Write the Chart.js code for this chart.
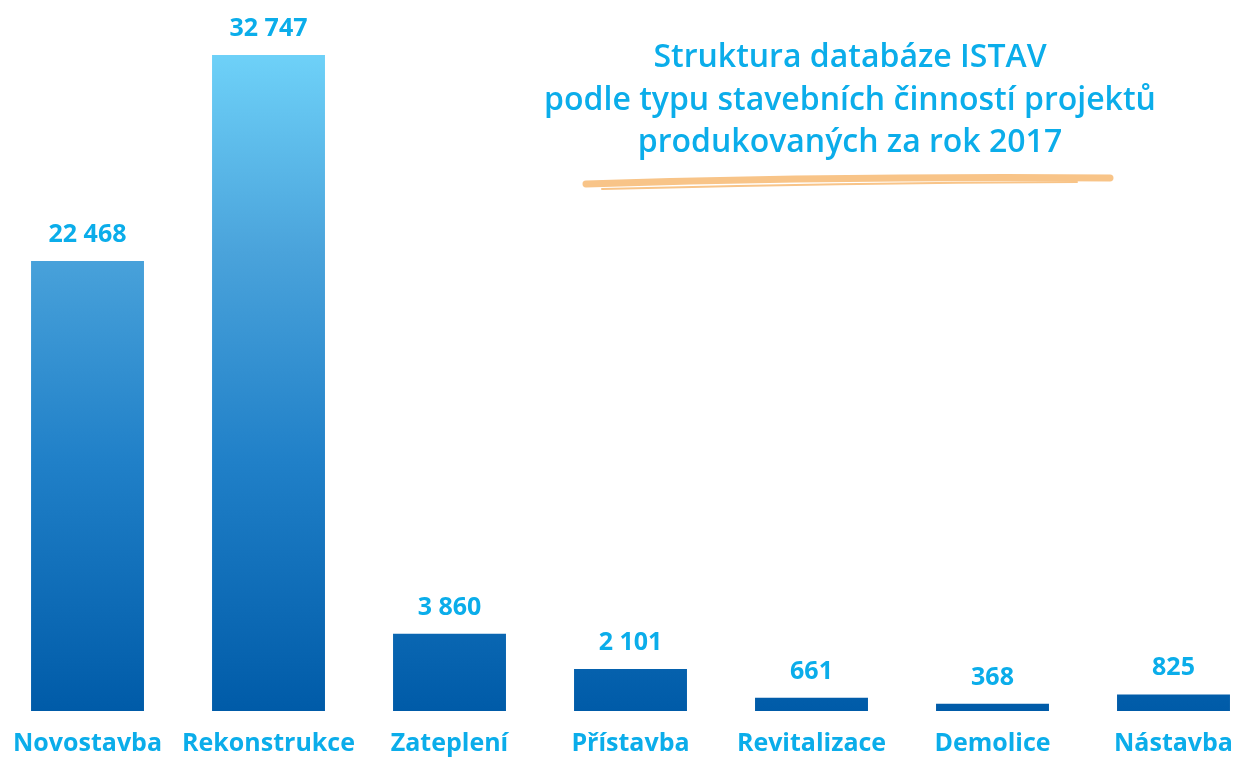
<!DOCTYPE html>
<html>
<head>
<meta charset="utf-8">
<script src="https://cdn.jsdelivr.net/npm/chart.js@4.4.1/dist/chart.umd.min.js"></script>
<style>
  html, body { margin: 0; padding: 0; background: #ffffff; overflow: hidden; }
  body { width: 1235px; height: 758px; position: relative; }
  #wrap { position: absolute; left: -5px; top: 0; width: 1269px; height: 758px; }
  #title {
    position: absolute; left: 500px; width: 700px; top: 34px; white-space: nowrap;
    text-align: center; color: #0badea;
    font-family: "Open Sans", sans-serif; font-weight: 600; font-size: 32px; line-height: 42.5px;
  }
</style>
</head>
<body>
<div id="wrap"><canvas id="c"></canvas></div>
<div id="title">Struktura databáze ISTAV<br>podle typu stavebních činností projektů<br>produkovaných za rok 2017</div>
<script>
const categories = ["Novostavba", "Rekonstrukce", "Zateplení", "Přístavba", "Revitalizace", "Demolice", "Nástavba"];
const values = [22468, 32747, 3860, 2101, 661, 368, 825];
const valueLabels = ["22 468", "32 747", "3 860", "2 101", "661", "368", "825"];

const labelColor = "#0badea";

const valueLabelPlugin = {
  id: "valueLabels",
  afterDatasetsDraw(chart) {
    const ctx = chart.ctx;
    const meta = chart.getDatasetMeta(0);
    ctx.save();
    ctx.font = "700 25px 'Open Sans'";
    ctx.fillStyle = labelColor;
    ctx.textAlign = "center";
    ctx.textBaseline = "alphabetic";
    meta.data.forEach((bar, i) => {
      ctx.fillText(valueLabels[i], bar.x, bar.y - 19);
    });
    ctx.restore();
  }
};

const brushPlugin = {
  id: "brush",
  afterDraw(chart) {
    const ctx = chart.ctx;
    ctx.save();
    ctx.translate(2, 0);
    ctx.strokeStyle = "#f8c488";
    ctx.lineCap = "round";
    ctx.lineWidth = 7;
    ctx.beginPath();
    ctx.moveTo(589, 184);
    ctx.quadraticCurveTo(850, 176, 1113, 178);
    ctx.stroke();
    ctx.lineWidth = 2;
    ctx.beginPath();
    ctx.moveTo(605, 189);
    ctx.quadraticCurveTo(840, 183, 1080, 182);
    ctx.stroke();
    ctx.restore();
  }
};

const ctx = document.getElementById("c").getContext("2d");
new Chart(ctx, {
  type: "bar",
  data: {
    labels: categories,
    datasets: [{
      data: values,
      backgroundColor(context) {
        const chart = context.chart;
        const area = chart.chartArea;
        if (!area) return "#2a87c6";
        const y = chart.scales.y;
        const top = y.getPixelForValue(32747);
        const g = chart.ctx.createLinearGradient(0, top, 0, area.bottom);
        g.addColorStop(0, "#6ed1f8");
        g.addColorStop(0.3, "#4aa3db");
        g.addColorStop(0.62, "#2080c8");
        g.addColorStop(1, "#005ba8");
        return g;
      },
      borderWidth: 0,
      categoryPercentage: 1,
      barPercentage: 0.624
    }]
  },
  options: {
    responsive: true,
    maintainAspectRatio: false,
    animation: false,
    layout: { padding: 0 },
    plugins: { legend: { display: false }, tooltip: { enabled: false }, title: { display: false } },
    scales: {
      x: {
        grid: { display: false, drawTicks: false },
        border: { display: false },
        afterFit(scale) { scale.height = 47; },
        ticks: {
          color: labelColor,
          font: { family: "'Open Sans'", weight: "700", size: 25 },
          padding: 18,
          maxRotation: 0,
          autoSkip: false
        }
      },
      y: {
        display: false,
        min: 0,
        max: 35493
      }
    }
  },
  plugins: [valueLabelPlugin, brushPlugin]
});
</script>
</body>
</html>
